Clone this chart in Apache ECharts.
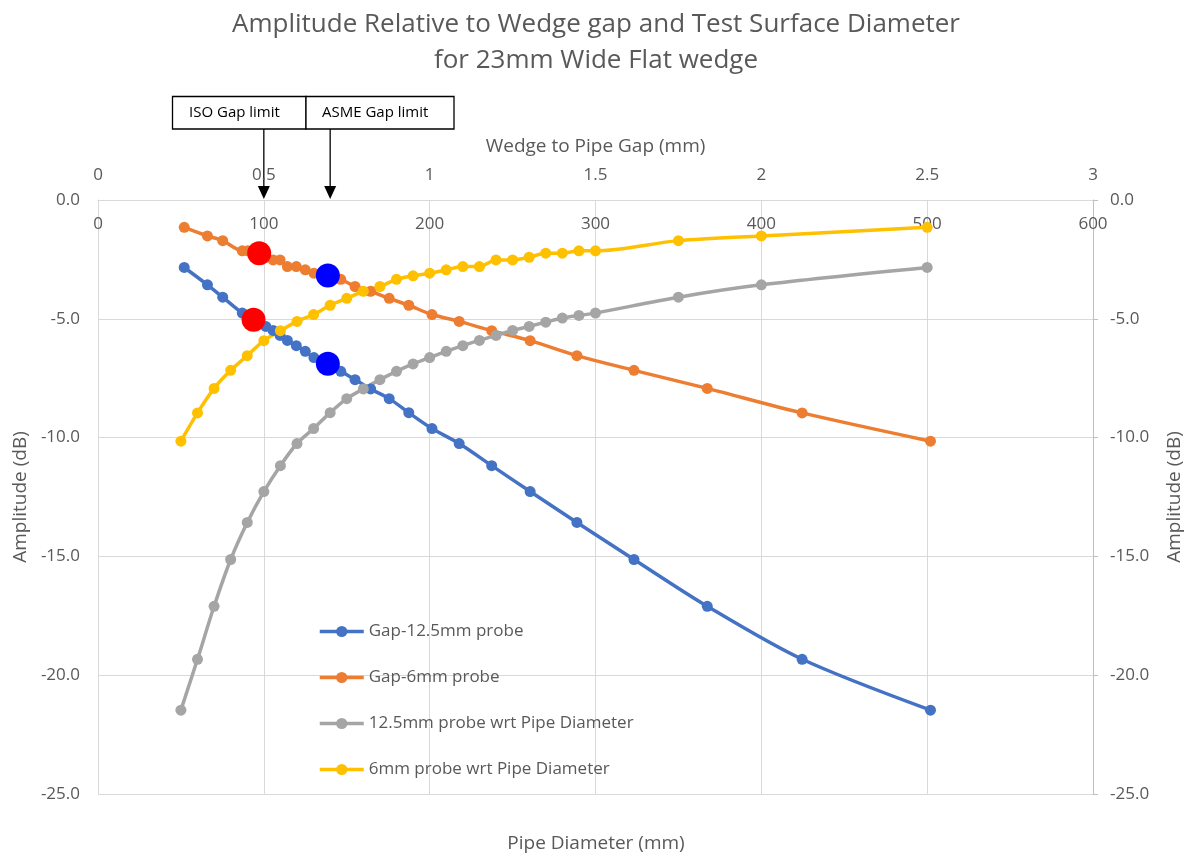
<!DOCTYPE html>
<html>
<head>
<meta charset="utf-8">
<script src="https://cdn.jsdelivr.net/npm/echarts@6/dist/echarts.min.js"></script>
<style>
html,body{margin:0;padding:0;background:#fff;}
#chart{width:1192px;height:857px;}
</style>
</head>
<body>
<div id="chart"></div>
<script>
// Pipe diameters (mm) for the "wrt Pipe Diameter" series
const diameters = [50,60,70,80,90,100,110,120,130,140,150,160,170,180,190,200,210,220,230,240,250,260,270,280,290,300,350,400,500];
// Amplitude (dB) vs pipe diameter
const probe125VsDia = [-21.47,-19.33,-17.1,-15.13,-13.57,-12.27,-11.18,-10.25,-9.62,-8.95,-8.36,-7.95,-7.56,-7.21,-6.9,-6.63,-6.37,-6.13,-5.91,-5.70,-5.49,-5.32,-5.14,-4.97,-4.86,-4.76,-4.09,-3.57,-2.84];
const probe6VsDia = [-10.15,-8.96,-7.93,-7.17,-6.55,-5.92,-5.5,-5.11,-4.82,-4.43,-4.14,-3.84,-3.64,-3.34,-3.19,-3.08,-2.94,-2.8,-2.8,-2.52,-2.52,-2.41,-2.24,-2.24,-2.14,-2.14,-1.71,-1.51,-1.15];
// Wedge to pipe gap (mm) for the "Gap" series
const gaps = [0.26,0.33,0.376,0.435,0.452,0.468,0.484,0.506,0.528,0.549,0.571,0.598,0.625,0.651,0.690,0.732,0.775,0.822,0.878,0.937,1.007,1.089,1.187,1.303,1.444,1.616,1.837,2.123,2.51];
const gap125 = [-2.84,-3.57,-4.09,-4.76,-4.86,-4.97,-5.14,-5.32,-5.49,-5.70,-5.91,-6.13,-6.37,-6.63,-6.9,-7.21,-7.56,-7.95,-8.36,-8.95,-9.62,-10.25,-11.18,-12.27,-13.57,-15.13,-17.1,-19.33,-21.47];
const gap6 = [-1.15,-1.51,-1.71,-2.14,-2.14,-2.24,-2.24,-2.41,-2.52,-2.52,-2.8,-2.8,-2.94,-3.08,-3.19,-3.34,-3.64,-3.84,-4.14,-4.43,-4.82,-5.11,-5.5,-5.92,-6.55,-7.17,-7.93,-8.96,-10.15];
// Highlighted points (gap mm, dB)
const isoPoints = [[0.486,-2.24],[0.469,-5.04]];
const asmePoints = [[0.693,-3.18],[0.693,-6.89]];
const isoGapLimit = 0.5;
const asmeGapLimit = 0.7;
const seriesNames = ['Gap-12.5mm probe','Gap-6mm probe','12.5mm probe wrt Pipe Diameter','6mm probe wrt Pipe Diameter'];

const zip = (xs, ys) => xs.map((x, i) => [x, ys[i]]);
const FONT = 'Open Sans';
const TXT = '#595959';
const GRID = '#D9D9D9';

const chart = echarts.init(document.getElementById('chart'));
function lineSeries(name, xIdx, data, color){
  return {
    name, type:'line', xAxisIndex:xIdx, yAxisIndex:0, data,
    smooth:0.3, symbol:'circle', symbolSize:11, showSymbol:true,
    lineStyle:{color, width:3.5}, itemStyle:{color}, animation:false
  };
}
const option = {
  animation:false,
  backgroundColor:'#fff',
  textStyle:{fontFamily:FONT},
  title:{
    text:'Amplitude Relative to Wedge gap and Test Surface Diameter\nfor 23mm Wide Flat wedge',
    left:'center', top:2,
    textStyle:{fontFamily:FONT, fontSize:26, fontWeight:'normal', color:TXT, lineHeight:36}
  },
  legend:{
    data:seriesNames, orient:'vertical', left:313, top:618,
    itemGap:29, itemWidth:44, itemHeight:14,
    lineStyle:{width:3.5},
    textStyle:{fontFamily:FONT, fontSize:17, color:TXT}
  },
  grid:{left:98, right:96, top:200, bottom:63, containLabel:false},
  xAxis:[
    {type:'value', position:'top', min:0, max:600, interval:100,
     axisLine:{show:true, onZero:false, lineStyle:{color:GRID, width:1}},
     axisTick:{show:false},
     axisLabel:{inside:true, margin:16, color:TXT, fontSize:17, fontFamily:FONT, showMinLabel:true, showMaxLabel:true},
     splitLine:{show:true, lineStyle:{color:GRID}}},
    {type:'value', position:'top', min:0, max:3, interval:0.5,
     name:'Wedge to Pipe Gap (mm)', nameLocation:'middle', nameGap:44,
     nameTextStyle:{color:TXT, fontSize:19, fontFamily:FONT},
     axisLine:{show:false}, axisTick:{show:false},
     axisLabel:{margin:16, color:TXT, fontSize:17, fontFamily:FONT, showMinLabel:true, showMaxLabel:true},
     splitLine:{show:false}}
  ],
  yAxis:[
    {type:'value', position:'left', min:-25, max:0, interval:5,
     name:'Amplitude (dB)', nameLocation:'middle', nameGap:66,
     nameTextStyle:{color:TXT, fontSize:19, fontFamily:FONT},
     axisLine:{show:true, onZero:false, lineStyle:{color:GRID}},
     axisTick:{show:false},
     axisLabel:{margin:18, color:TXT, fontSize:17, fontFamily:FONT, formatter:v=>v.toFixed(1)},
     splitLine:{show:true, lineStyle:{color:GRID}}},
    {type:'value', position:'right', min:-25, max:0, interval:5,
     name:'Amplitude (dB)', nameLocation:'middle', nameGap:72,
     nameTextStyle:{color:TXT, fontSize:19, fontFamily:FONT},
     axisLine:{show:true, onZero:false, lineStyle:{color:'#BFBFBF'}},
     axisTick:{show:true, inside:false, length:5, lineStyle:{color:'#BFBFBF'}},
     axisLabel:{margin:17, color:TXT, fontSize:17, fontFamily:FONT, formatter:v=>v.toFixed(1)},
     splitLine:{show:false}}
  ],
  series:[
    lineSeries(seriesNames[0], 1, zip(gaps, gap125), '#4472C4'),
    lineSeries(seriesNames[1], 1, zip(gaps, gap6), '#ED7D31'),
    lineSeries(seriesNames[2], 0, zip(diameters, probe125VsDia), '#A5A5A5'),
    lineSeries(seriesNames[3], 0, zip(diameters, probe6VsDia), '#FFC000'),
    {name:'ISO', type:'scatter', xAxisIndex:1, yAxisIndex:0, data:isoPoints,
     symbolSize:24, itemStyle:{color:'#FF0000', opacity:1}, z:5},
    {name:'ASME', type:'scatter', xAxisIndex:1, yAxisIndex:0, data:asmePoints,
     symbolSize:24, itemStyle:{color:'#0000FF', opacity:1}, z:5}
  ]
};
chart.setOption(option);

// Annotations: boxes and arrows to the gap limits
const isoX = chart.convertToPixel({xAxisIndex:1}, isoGapLimit);
const asmeX = chart.convertToPixel({xAxisIndex:1}, asmeGapLimit);
const axisTopY = chart.convertToPixel({yAxisIndex:0}, 0);
function arrow(x){
  return [
    {type:'line', shape:{x1:x, y1:129, x2:x, y2:axisTopY-12}, style:{stroke:'#000', lineWidth:1.3}},
    {type:'polygon', shape:{points:[[x-6,axisTopY-14],[x+6,axisTopY-14],[x,axisTopY-1]]}, style:{fill:'#000'}}
  ];
}
chart.setOption({
  graphic:[
    {type:'text', left:'center', top:834, style:{text:'Pipe Diameter (mm)', fill:TXT, fontSize:19, fontFamily:FONT}},
    {type:'rect', shape:{x:172.5, y:96.5, width:133.5, height:32.5}, style:{fill:'#fff', stroke:'#000', lineWidth:1.3}},
    {type:'rect', shape:{x:306, y:96.5, width:148, height:32.5}, style:{fill:'#fff', stroke:'#000', lineWidth:1.3}},
    {type:'text', x:189, y:113, style:{text:'ISO Gap limit', fill:'#000', fontSize:15, fontFamily:FONT, verticalAlign:'middle'}},
    {type:'text', x:322, y:113, style:{text:'ASME Gap limit', fill:'#000', fontSize:15, fontFamily:FONT, verticalAlign:'middle'}},
    ...arrow(isoX), ...arrow(asmeX)
  ]
});
</script>
</body>
</html>
